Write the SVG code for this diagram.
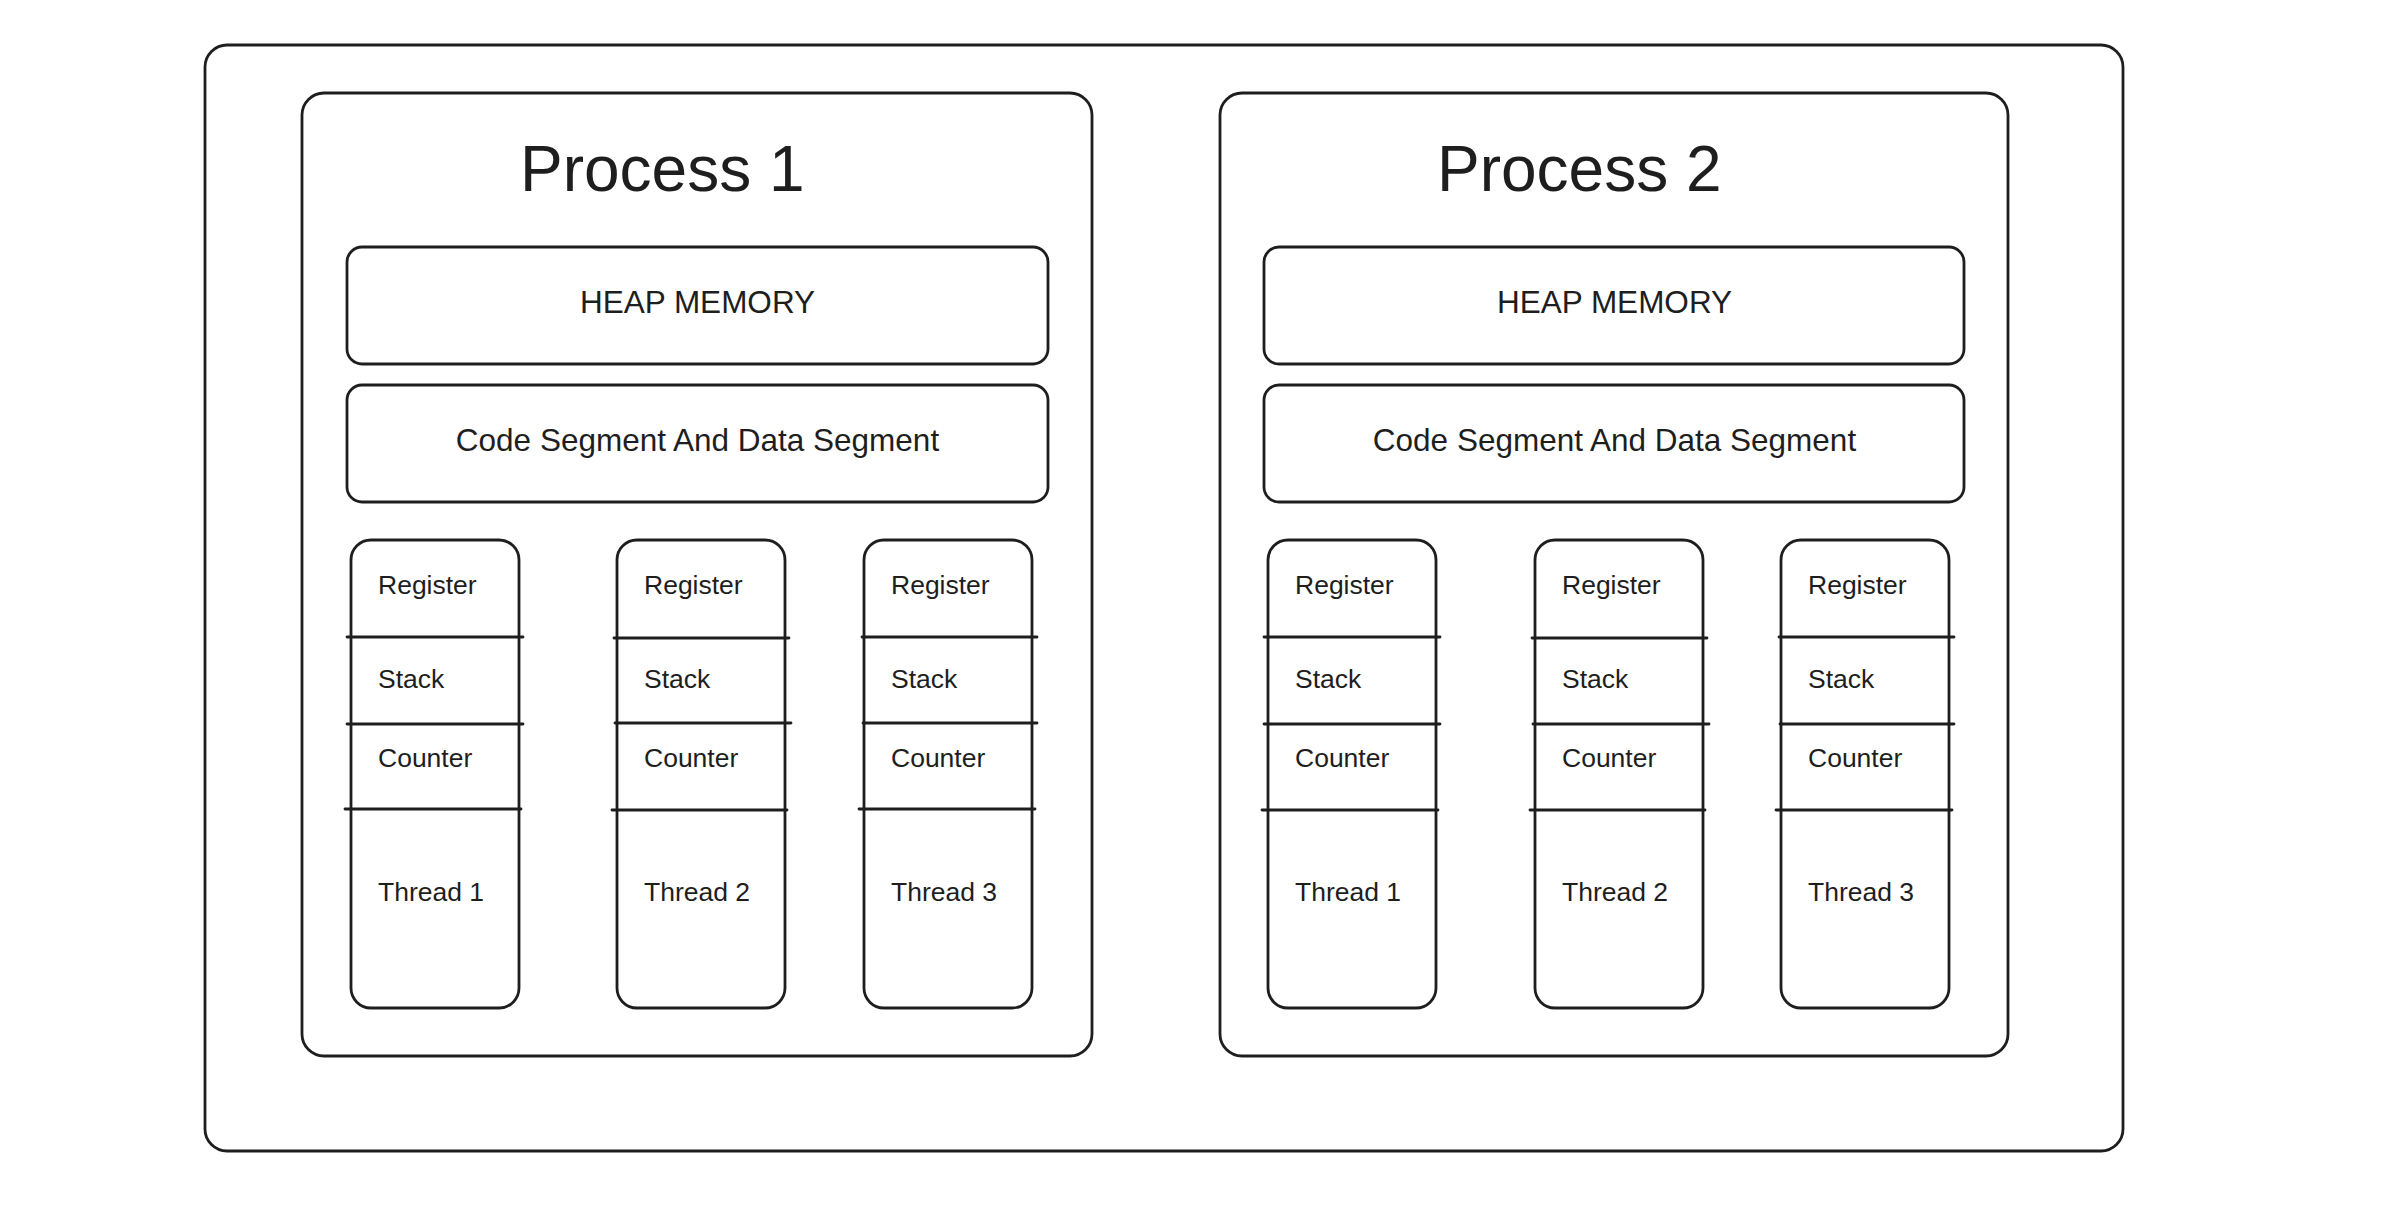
<svg xmlns="http://www.w3.org/2000/svg" width="2400" height="1214" viewBox="0 0 2400 1214">
<style>
.box{fill:none;stroke:#1e1e1e;stroke-width:2.8;stroke-linejoin:round}
.div{stroke:#1e1e1e;stroke-width:2.8;stroke-linecap:round}
.t{font-family:"Liberation Sans",Arial,Helvetica,sans-serif;fill:#1e1e1e}
.title{font-size:64px}
.mid{font-size:31.5px;text-anchor:middle}
.lbl{font-size:26.5px}
</style>
<rect width="2400" height="1214" fill="#ffffff"/>
<g id="system">
<rect class="box" x="205" y="45" width="1918" height="1106" rx="22"/>
</g>
<g id="process1">
<rect class="box" x="302" y="93" width="790" height="963" rx="22"/>
<text class="t title" x="520" y="191">Process 1</text>
</g>
<g id="heap1">
<rect class="box" x="347" y="247" width="701" height="117" rx="15"/>
<text class="t mid" x="697.5" y="313">HEAP MEMORY</text>
</g>
<g id="code1">
<rect class="box" x="347" y="385" width="701" height="117" rx="15"/>
<text class="t mid" x="697.5" y="451">Code Segment And Data Segment</text>
</g>
<g id="p1thread1">
<rect class="box" x="351" y="540" width="168" height="468" rx="20"/>
<line class="div" x1="347" y1="637" x2="523" y2="637"/>
<line class="div" x1="347" y1="724" x2="523" y2="724"/>
<line class="div" x1="345" y1="809" x2="521" y2="809"/>
<text class="t lbl" x="378" y="594">Register</text>
<text class="t lbl" x="378" y="688">Stack</text>
<text class="t lbl" x="378" y="767">Counter</text>
<text class="t lbl" x="378" y="901">Thread 1</text>
</g>
<g id="p1thread2">
<rect class="box" x="617" y="540" width="168" height="468" rx="20"/>
<line class="div" x1="614" y1="638" x2="789" y2="638"/>
<line class="div" x1="615" y1="723" x2="791" y2="723"/>
<line class="div" x1="612" y1="810" x2="787" y2="810"/>
<text class="t lbl" x="644" y="594">Register</text>
<text class="t lbl" x="644" y="688">Stack</text>
<text class="t lbl" x="644" y="767">Counter</text>
<text class="t lbl" x="644" y="901">Thread 2</text>
</g>
<g id="p1thread3">
<rect class="box" x="864" y="540" width="168" height="468" rx="20"/>
<line class="div" x1="862" y1="637" x2="1037" y2="637"/>
<line class="div" x1="863" y1="723" x2="1037" y2="723"/>
<line class="div" x1="859" y1="809" x2="1035" y2="809"/>
<text class="t lbl" x="891" y="594">Register</text>
<text class="t lbl" x="891" y="688">Stack</text>
<text class="t lbl" x="891" y="767">Counter</text>
<text class="t lbl" x="891" y="901">Thread 3</text>
</g>
<g id="process2">
<rect class="box" x="1220" y="93" width="788" height="963" rx="22"/>
<text class="t title" x="1437" y="191">Process 2</text>
</g>
<g id="heap2">
<rect class="box" x="1264" y="247" width="700" height="117" rx="15"/>
<text class="t mid" x="1614.5" y="313">HEAP MEMORY</text>
</g>
<g id="code2">
<rect class="box" x="1264" y="385" width="700" height="117" rx="15"/>
<text class="t mid" x="1614.5" y="451">Code Segment And Data Segment</text>
</g>
<g id="p2thread1">
<rect class="box" x="1268" y="540" width="168" height="468" rx="20"/>
<line class="div" x1="1264" y1="637" x2="1440" y2="637"/>
<line class="div" x1="1264" y1="724" x2="1440" y2="724"/>
<line class="div" x1="1262" y1="810" x2="1438" y2="810"/>
<text class="t lbl" x="1295" y="594">Register</text>
<text class="t lbl" x="1295" y="688">Stack</text>
<text class="t lbl" x="1295" y="767">Counter</text>
<text class="t lbl" x="1295" y="901">Thread 1</text>
</g>
<g id="p2thread2">
<rect class="box" x="1535" y="540" width="168" height="468" rx="20"/>
<line class="div" x1="1532" y1="638" x2="1707" y2="638"/>
<line class="div" x1="1533" y1="724" x2="1709" y2="724"/>
<line class="div" x1="1530" y1="810" x2="1705" y2="810"/>
<text class="t lbl" x="1562" y="594">Register</text>
<text class="t lbl" x="1562" y="688">Stack</text>
<text class="t lbl" x="1562" y="767">Counter</text>
<text class="t lbl" x="1562" y="901">Thread 2</text>
</g>
<g id="p2thread3">
<rect class="box" x="1781" y="540" width="168" height="468" rx="20"/>
<line class="div" x1="1779" y1="637" x2="1954" y2="637"/>
<line class="div" x1="1780" y1="724" x2="1954" y2="724"/>
<line class="div" x1="1776" y1="810" x2="1952" y2="810"/>
<text class="t lbl" x="1808" y="594">Register</text>
<text class="t lbl" x="1808" y="688">Stack</text>
<text class="t lbl" x="1808" y="767">Counter</text>
<text class="t lbl" x="1808" y="901">Thread 3</text>
</g>
<g id="connectors"></g>
</svg>
